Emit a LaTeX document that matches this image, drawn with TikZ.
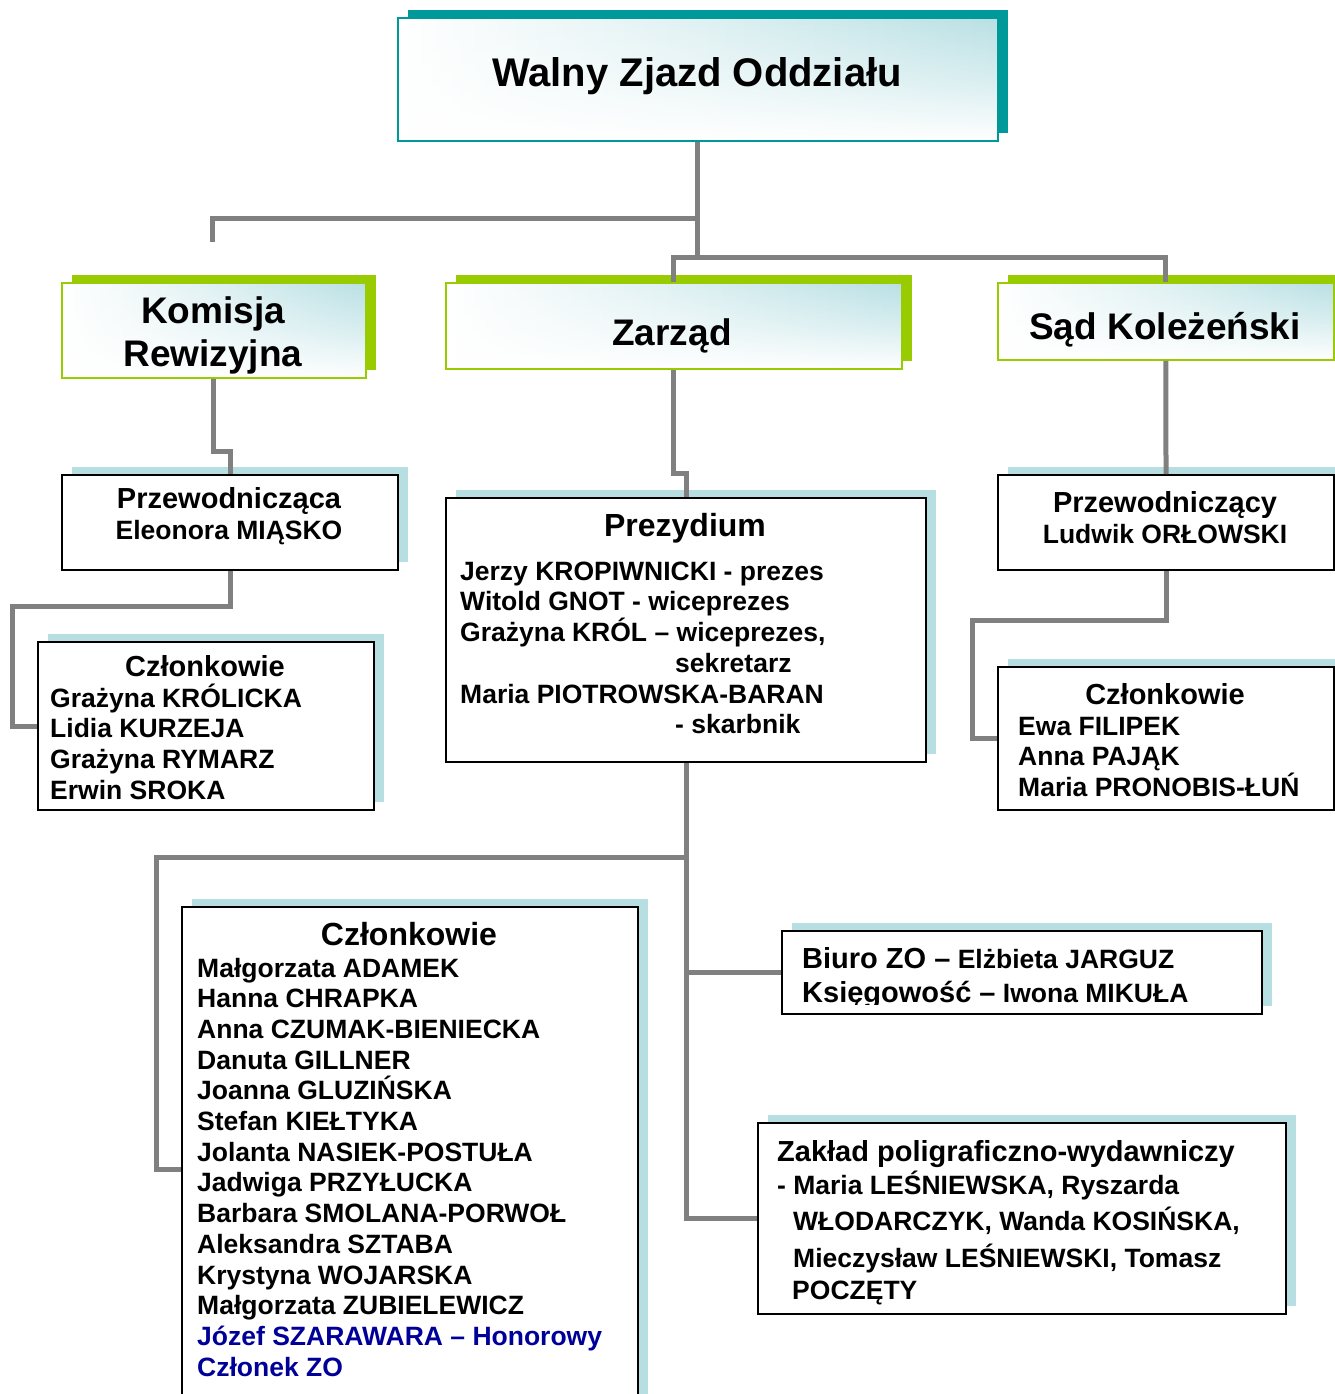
\documentclass[tikz,border=0pt]{standalone}
\usepackage{fontspec}
\setmainfont{Liberation Sans}
\usetikzlibrary{shadows,fadings}
\definecolor{conngray}{HTML}{808080}
\definecolor{tealc}{HTML}{009999}
\definecolor{lgreen}{HTML}{99CC00}
\definecolor{lblue}{HTML}{B7DFE2}
\definecolor{gblue}{HTML}{B9E0E4}
\definecolor{dblue}{HTML}{000099}
\newcommand\fsz[1]{\fontsize{#1}{#1}\selectfont\bfseries}
\tikzfading[name=bottomwhite, top color=transparent!100, bottom color=transparent!0, middle color=transparent!55]
\begin{document}
\begin{tikzpicture}[x=1pt,y=-1pt,
  conn/.style={draw=conngray, line width=5pt},
  topbox/.style={draw=#1, line width=1.8pt, inner sep=0pt, anchor=north west,
    path picture={
      \shade[left color=white, right color=gblue, middle color=gblue!45]
        (path picture bounding box.south west) rectangle (path picture bounding box.north east);
      \fill[white, path fading=bottomwhite]
        (path picture bounding box.south west) rectangle (path picture bounding box.north east);
    },
    general shadow={fill=#1, shadow xshift=10pt, shadow yshift=8pt}},
  plainbox/.style={draw=black, line width=2pt, fill=white, inner sep=0pt, anchor=north west,
    general shadow={fill=lblue, shadow xshift=10pt, shadow yshift=8pt}},
  tl/.style={inner sep=0pt, anchor=base west},
  tc/.style={inner sep=0pt, anchor=base},
]
\useasboundingbox (0,0) rectangle (1335,1394);
\fill[white] (0,0) rectangle (1335,1394);

% ---------- boxes ----------
\node[topbox=tealc, minimum width=600pt, minimum height=123pt] (walny) at (397,17) {};
\node[topbox=lgreen, minimum width=304pt, minimum height=95pt] (komisja) at (61,282) {};
\node[topbox=lgreen, minimum width=456pt, minimum height=86pt] (zarzad) at (445,282) {};
\node[topbox=lgreen, minimum width=336pt, minimum height=77pt] (sad) at (997,282) {};

\node[plainbox, minimum width=336pt, minimum height=95pt] (przL) at (61,474) {};
\node[plainbox, minimum width=336pt, minimum height=168pt] (czlL) at (37,641) {};
\node[plainbox, minimum width=480pt, minimum height=264pt] (prez) at (445,497) {};
\node[plainbox, minimum width=336pt, minimum height=95pt] (przR) at (997,474) {};
\node[plainbox, minimum width=336pt, minimum height=143pt] (czlR) at (997,666) {};
\node[plainbox, minimum width=456pt, minimum height=524pt] (czlB) at (181,906) {};
\node[plainbox, minimum width=480pt, minimum height=83pt] (biuro) at (781,930) {};
\node[plainbox, minimum width=528pt, minimum height=191pt] (zaklad) at (757,1122) {};

% ---------- connectors ----------
\coordinate (komEnd) at (212,242);
\draw[conn] (walny.south) -- (walny.south |- 0,257) -| (zarzad.north);
\draw[conn] (walny.south |- 0,257) -| (sad.north);
\draw[conn] (walny.south |- 0,218) -| (komEnd);
\draw[conn] (komisja.south) -- ++(0,73) -| (przL.north);
\draw[conn] (przL.south) -- ++(0,35) -| ([xshift=-25pt]czlL.west) -- (czlL.west);
\draw[conn] (zarzad.south) -- ++(0,104) -| (prez.north);
\draw[conn] (prez.south) |- (zaklad.west);
\draw[conn] (prez.south |- biuro.west) -- (biuro.west);
\draw[conn] (prez.south |- 0,857) -| ([xshift=-25pt]czlB.west) -- (czlB.west);
\draw[conn] (sad.south) -- (przR.north);
\draw[conn] (przR.south) -- ++(0,49) -| ([xshift=-25pt]czlR.west) -- (czlR.west);

% ---------- texts ----------
\node[tc] (tWalny) at (697,87) {\fsz{40}Walny Zjazd Oddziału};
\node[tc] (tKom1) at (213,323) {\fsz{37}Komisja};
\node[tc] (tKom2) at (213,366) {\fsz{37}Rewizyjna};
\node[tc] (tZarz) at (672,345) {\fsz{37}Zarząd};
\node[tc] (tSad) at (1165,339) {\fsz{37}Sąd Koleżeński};

\node[tc] (tPrzL1) at (229,508) {\fsz{29}Przewodnicząca};
\node[tc] (tPrzL2) at (229,539) {\fsz{26.5}Eleonora MIĄSKO};

\node[tc] (tCzlL) at (205,676) {\fsz{29}Członkowie};
\foreach \t [count=\i] in {Grażyna KRÓLICKA, Lidia KURZEJA, Grażyna RYMARZ, Erwin SROKA}
  \node[tl] (tCzlL\i) at (50,{707+30.7*(\i-1)}) {\fsz{26.5}\t};

\node[tc] (tPrez) at (685,536) {\fsz{32}Prezydium};
\node[tl] (tPr1) at (460,580) {\fsz{26.5}Jerzy KROPIWNICKI - prezes};
\node[tl] (tPr2) at (460,610) {\fsz{26.5}Witold GNOT - wiceprezes};
\node[tl] (tPr3) at (460,641) {\fsz{26.5}Grażyna KRÓL – wiceprezes,};
\node[tl] (tPr4) at (675,672) {\fsz{26.5}sekretarz};
\node[tl] (tPr5) at (460,703) {\fsz{26.5}Maria PIOTROWSKA-BARAN};
\node[tl] (tPr6) at (675,733) {\fsz{26.5}- skarbnik};

\node[tc] (tPrzR1) at (1165,512) {\fsz{29}Przewodniczący};
\node[tc] (tPrzR2) at (1165,543) {\fsz{26.5}Ludwik ORŁOWSKI};

\node[tc] (tCzlR) at (1165,704) {\fsz{29}Członkowie};
\foreach \t [count=\i] in {Ewa FILIPEK, Anna PAJĄK, Maria PRONOBIS-ŁUŃ}
  \node[tl] (tCzlR\i) at (1018,{735+30.7*(\i-1)}) {\fsz{26.5}\t};

\node[tc] (tCzlB) at (409,945) {\fsz{32}Członkowie};
\foreach \t [count=\i] in {Małgorzata ADAMEK, Hanna CHRAPKA, Anna CZUMAK-BIENIECKA,
  Danuta GILLNER, Joanna GLUZIŃSKA, Stefan KIEŁTYKA, Jolanta NASIEK-POSTUŁA,
  Jadwiga PRZYŁUCKA, Barbara SMOLANA-PORWOŁ, Aleksandra SZTABA,
  Krystyna WOJARSKA, Małgorzata ZUBIELEWICZ}
  \node[tl] (tCzlB\i) at (197,{977+30.7*(\i-1)}) {\fsz{26.5}\t};
\node[tl, text=dblue] (tHon1) at (197,1345) {\fsz{26.5}Józef SZARAWARA – Honorowy};
\node[tl, text=dblue] (tHon2) at (197,1376) {\fsz{26.5}Członek ZO};

\begin{scope}
  \clip (782,931) rectangle (1260,1004);
  \node[tl] (tBiu1) at (802,968) {\fsz{29}Biuro ZO –\fsz{26.5} Elżbieta JARGUZ};
  \node[tl] (tBiu2) at (802,1002) {\fsz{29}Księgowość –\fsz{26.5} Iwona MIKUŁA};
\end{scope}

\node[tl] (tZak1) at (777,1161) {\fsz{29}Zakład poligraficzno-wydawniczy};
\node[tl] (tZak2) at (777,1194) {\fsz{26.5}- Maria LEŚNIEWSKA, Ryszarda};
\node[tl] (tZak3) at (793,1230) {\fsz{26.5}WŁODARCZYK, Wanda KOSIŃSKA,};
\node[tl] (tZak4) at (793,1267) {\fsz{26.5}Mieczysław LEŚNIEWSKI, Tomasz};
\node[tl] (tZak5) at (792,1299) {\fsz{26.5}POCZĘTY};
\end{tikzpicture}
\end{document}
